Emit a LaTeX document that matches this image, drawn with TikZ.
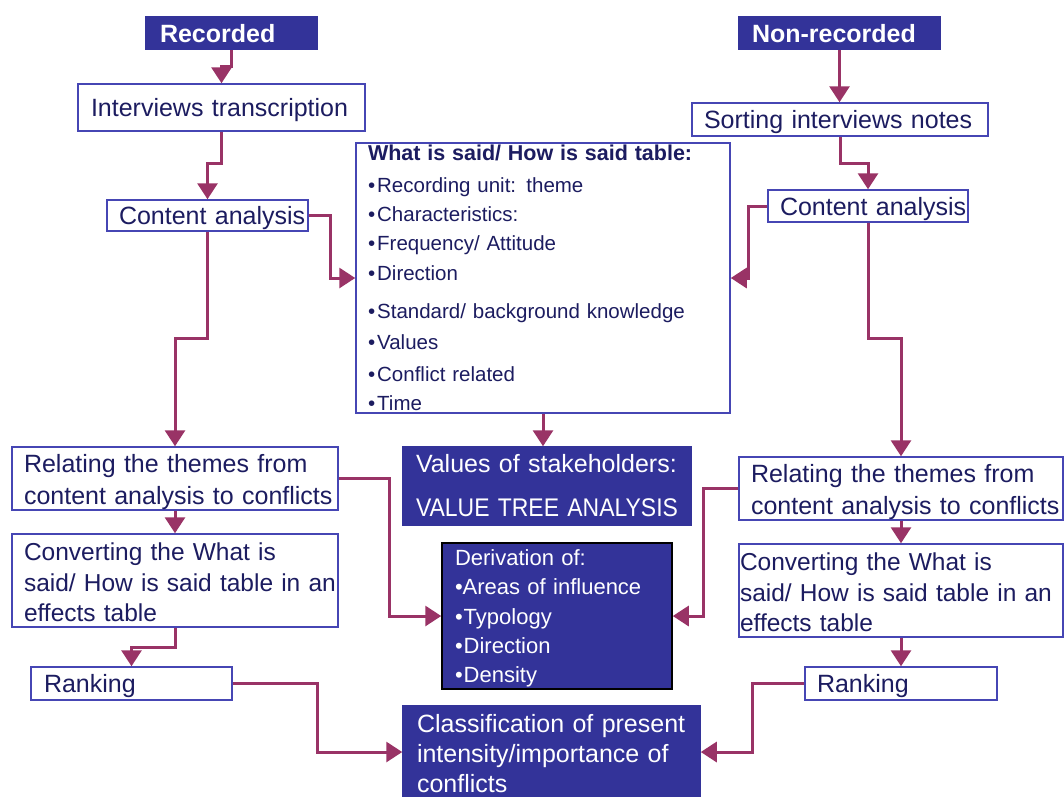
\documentclass[tikz,border=0pt]{standalone}
\usepackage{fontspec}
\setmainfont{Liberation Sans}
\newfontfamily\narrowsf{Liberation Sans}[FakeStretch=0.9]
\usepackage{tikz}
\usetikzlibrary{arrows.meta}
\hyphenpenalty=10000
\exhyphenpenalty=10000
\definecolor{boxblue}{RGB}{70,70,180}
\definecolor{fillblue}{RGB}{51,51,153}
\definecolor{inknavy}{RGB}{28,28,96}
\definecolor{linkred}{RGB}{153,51,102}
\tikzset{
	box/.style={line width=1.5pt,inner xsep=0pt,inner ysep=0pt,align=left},
	single/.style={text depth=0pt},
	wbox/.style={box,draw=boxblue,fill=white,text=inknavy},
	dbox/.style={box,draw=fillblue,fill=fillblue,text=white},
	hbox/.style={dbox,single,font=\bfseries\fontsize{25}{30}\selectfont},
	flow/.style={draw=linkred,line width=3pt,-{Triangle[width=20pt,length=16pt]}}
}

\begin{document}
\begin{tikzpicture}[x=1pt,y=-1pt]
		\useasboundingbox (0,0) rectangle (1064,796);
		\node[hbox,minimum width=171pt,minimum height=32pt,text width=143pt] (rec) at (231.5,33) {Recorded};
		\node[hbox,minimum width=201pt,minimum height=32pt,text width=175pt] (nrec) at (839.5,33) {Non-recorded};
		\node[wbox,single,minimum width=287pt,minimum height=47pt,text width=261pt,font=\fontsize{25}{30}\selectfont] (itr) at (221.5,107.5) {Interviews transcription};
		\node[wbox,single,minimum width=296pt,minimum height=33pt,text width=272pt,font=\fontsize{25}{30}\selectfont] (srt) at (840,119.5) {Sorting interviews notes};
		\node[wbox,single,minimum width=201pt,minimum height=31pt,text width=177pt,font=\fontsize{25}{30}\selectfont] (cal) at (207.5,215.5) {\mbox{Content analysis}};
		\node[wbox,single,minimum width=200pt,minimum height=32pt,text width=176pt,font=\fontsize{25}{30}\selectfont] (car) at (868,206) {\mbox{Content analysis}};
		\node[wbox,minimum width=374pt,minimum height=270pt,text width=350pt,font=\fontsize{20.5}{29.3}\selectfont] (what) at (543,278) {{\bfseries\fontsize{21.5}{29.3}\selectfont What is said/ How is said table:}\\[2pt]
			•\hspace{2pt}Recording unit: theme\\
			•\hspace{2pt}Characteristics:\\
			•\hspace{2pt}Frequency/ Attitude\\
			•\hspace{2pt}Direction\\[9pt]
			•\hspace{2pt}Standard/ background knowledge\\[2pt]
			•\hspace{2pt}Values\\[2pt]
			•\hspace{2pt}Conflict related\\
			•\hspace{2pt}Time};
		\node[dbox,minimum width=288pt,minimum height=78pt,text width=262pt,font=\fontsize{25}{44}\selectfont] (val) at (547,486) {Values of stakeholders:\\
			\mbox{\narrowsf\fontsize{25.5}{44}\selectfont VALUE TREE ANALYSIS}};
		\node[wbox,minimum width=326pt,minimum height=63pt,text width=302pt,font=\fontsize{25}{32}\selectfont] (rel1) at (175,478.5) {\rule{0pt}{25pt}Relating the themes from\\\mbox{content analysis to conflicts}};
		\node[wbox,minimum width=324pt,minimum height=63pt,text width=300pt,font=\fontsize{25}{32}\selectfont] (rel2) at (901,488.5) {\rule{0pt}{25pt}Relating the themes from\\\mbox{content analysis to conflicts}};
		\node[wbox,minimum width=326pt,minimum height=93pt,text width=302pt,font=\fontsize{24.5}{30.5}\selectfont] (cv1) at (175,580.5) {\rule{0pt}{22pt}Converting the What is\\\mbox{said/ How is said table in an}\\effects table};
		\node[wbox,minimum width=324pt,minimum height=93pt,text width=322pt,font=\fontsize{24.5}{30.5}\selectfont] (cv2) at (901,590.5) {\rule{0pt}{22pt}Converting the What is\\\mbox{said/ How is said table in an}\\effects table};
		\node[dbox,draw=black,minimum width=230pt,minimum height=146pt,text width=204pt,font=\fontsize{22}{29.3}\selectfont] (der) at (557,616) {\rule{0pt}{21pt}Derivation of:\\
			•Areas of influence\\
			•\hspace{1pt}Typology\\
			•\hspace{1pt}Direction\\
			•\hspace{1pt}Density};
		\node[wbox,single,minimum width=201pt,minimum height=33pt,text width=175pt,font=\fontsize{25}{30}\selectfont] (rk1) at (131.5,683.5) {Ranking};
		\node[wbox,single,minimum width=192pt,minimum height=33pt,text width=168pt,font=\fontsize{25}{30}\selectfont] (rk2) at (901,683.5) {Ranking};
		\node[dbox,minimum width=297pt,minimum height=92pt,text width=269pt,font=\fontsize{25}{30}\selectfont] (cls) at (551.5,752) {\rule{0pt}{21pt}Classification of present\\intensity/importance of\\conflicts};
		\draw[flow] (rec.south) -- ++(0,17) -| (itr.north);
		\draw[flow] (itr.south) -- ++(0,32) -| (cal.north);
		\draw[flow] (cal.east) -- ++(22,0) |- (what.west);
		\draw[flow] (cal.south) -- ++(0,107) -| (rel1.north);
		\draw[flow] (nrec.south) -- (nrec.south |- srt.north);
		\draw[flow] (srt.south) -- ++(0,27) -| (car.north);
		\draw[flow] (car.west) -- ++(-19,0) |- (what.east);
		\draw[flow] (car.south) -- ++(0,116) -| (rel2.north);
		\draw[flow] (what.south) -- (what.south |- val.north);
		\draw[flow] (rel1.east) -- ++(51,0) |- (der.west);
		\draw[flow] (rel2.west) -- ++(-35,0) |- (der.east);
		\draw[flow] (rel1.south) -- (cv1.north);
		\draw[flow] (rel2.south) -- (cv2.north);
		\draw[flow] (cv1.south) -- ++(0,20) -| (rk1.north);
		\draw[flow] (cv2.south) -- (cv2.south |- rk2.north);
		\draw[flow] (rk1.east) -- ++(85,0) |- (cls.west);
		\draw[flow] (rk2.west) -- ++(-52,0) |- (cls.east);
\end{tikzpicture}
\end{document}
